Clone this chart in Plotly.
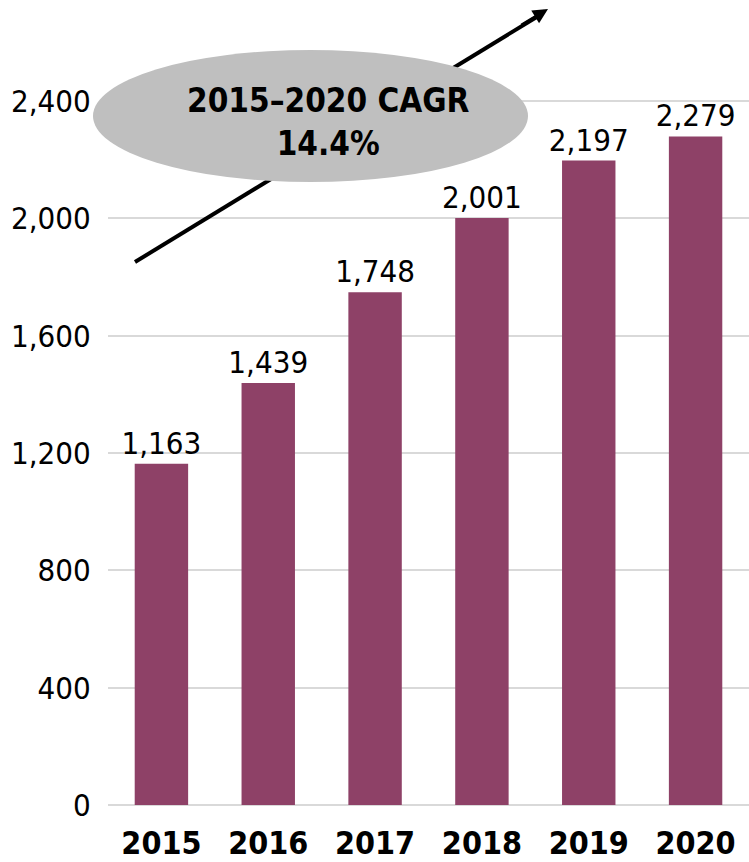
import plotly.graph_objects as go

years = ["2015", "2016", "2017", "2018", "2019", "2020"]
values = [1163, 1439, 1748, 2001, 2197, 2279]
tick_vals = [0, 400, 800, 1200, 1600, 2000, 2400]
tick_text = ["0", "400", "800", "1,200", "1,600", "2,000", "2,400"]
value_text = ["1,163", "1,439", "1,748", "2,001", "2,197", "2,279"]
cagr_text = "<b>2015–2020 CAGR<br>14.4%</b>"

W, H = 749, 862
L, R, T, B = 108, 0, 0, 862 - 805
pw, ph = W - L - R, H - T - B

def px(x):
    return (x - L) / pw

def py(y):
    return (H - B - y) / ph

FONT = "DejaVu Sans Condensed, Tahoma, DejaVu Sans, sans-serif"
ymax = 805 / (704.0 / 2400)

fig = go.Figure()
fig.add_trace(go.Bar(
    x=years, y=values, text=value_text, textposition="outside",
    constraintext="none",
    marker=dict(color="#8E4167", line=dict(width=0)),
    textfont=dict(family=FONT, size=31, color="#000000"),
    cliponaxis=False, width=0.5,
))

shapes = [
    dict(type="line", xref="paper", yref="paper",
         x0=px(135), y0=py(262), x1=px(540), y1=py(15),
         line=dict(color="black", width=4), layer="above"),
    dict(type="circle", xref="paper", yref="paper",
         x0=px(93), x1=px(528), y0=py(182), y1=py(50),
         fillcolor="#BFBFBF", line=dict(width=0), layer="above"),
]

fig.update_layout(
    width=W, height=H,
    margin=dict(l=L, r=R, t=T, b=B, pad=0, autoexpand=False),
    paper_bgcolor="white", plot_bgcolor="white",
    showlegend=False,
    shapes=shapes,
    bargap=0.5,
    xaxis=dict(
        type="category", showgrid=False, showline=False, automargin=False,
        ticks="outside", ticklen=10, tickcolor="rgba(0,0,0,0)",
        tickfont=dict(family=FONT, size=32, color="black", weight="bold"),
        range=[-0.5, 5.5],
    ),
    yaxis=dict(
        range=[0, ymax], tickvals=tick_vals, ticktext=tick_text, automargin=False,
        showgrid=True, gridcolor="#D9D9D9", gridwidth=2,
        zeroline=True, zerolinecolor="#D9D9D9", zerolinewidth=2,
        showline=False, ticks="outside", ticklen=10, tickcolor="rgba(0,0,0,0)",
        tickfont=dict(family=FONT, size=31, color="black"),
    ),
    annotations=[
        dict(xref="paper", yref="paper", x=px(548), y=py(9),
             ax=-28, ay=17,
             showarrow=True, arrowhead=2, arrowsize=1, arrowwidth=3,
             arrowcolor="black", text=""),
        dict(xref="paper", yref="paper", x=px(328), y=py(122),
             text=cagr_text, showarrow=False,
             font=dict(family=FONT, size=33, color="black"),
             align="center", xanchor="center", yanchor="middle"),
    ],
)

fig.write_html(
    "out.html",
    config={"displayModeBar": False},
    post_script="document.body.style.margin='0';document.body.style.overflow='hidden';",
)
